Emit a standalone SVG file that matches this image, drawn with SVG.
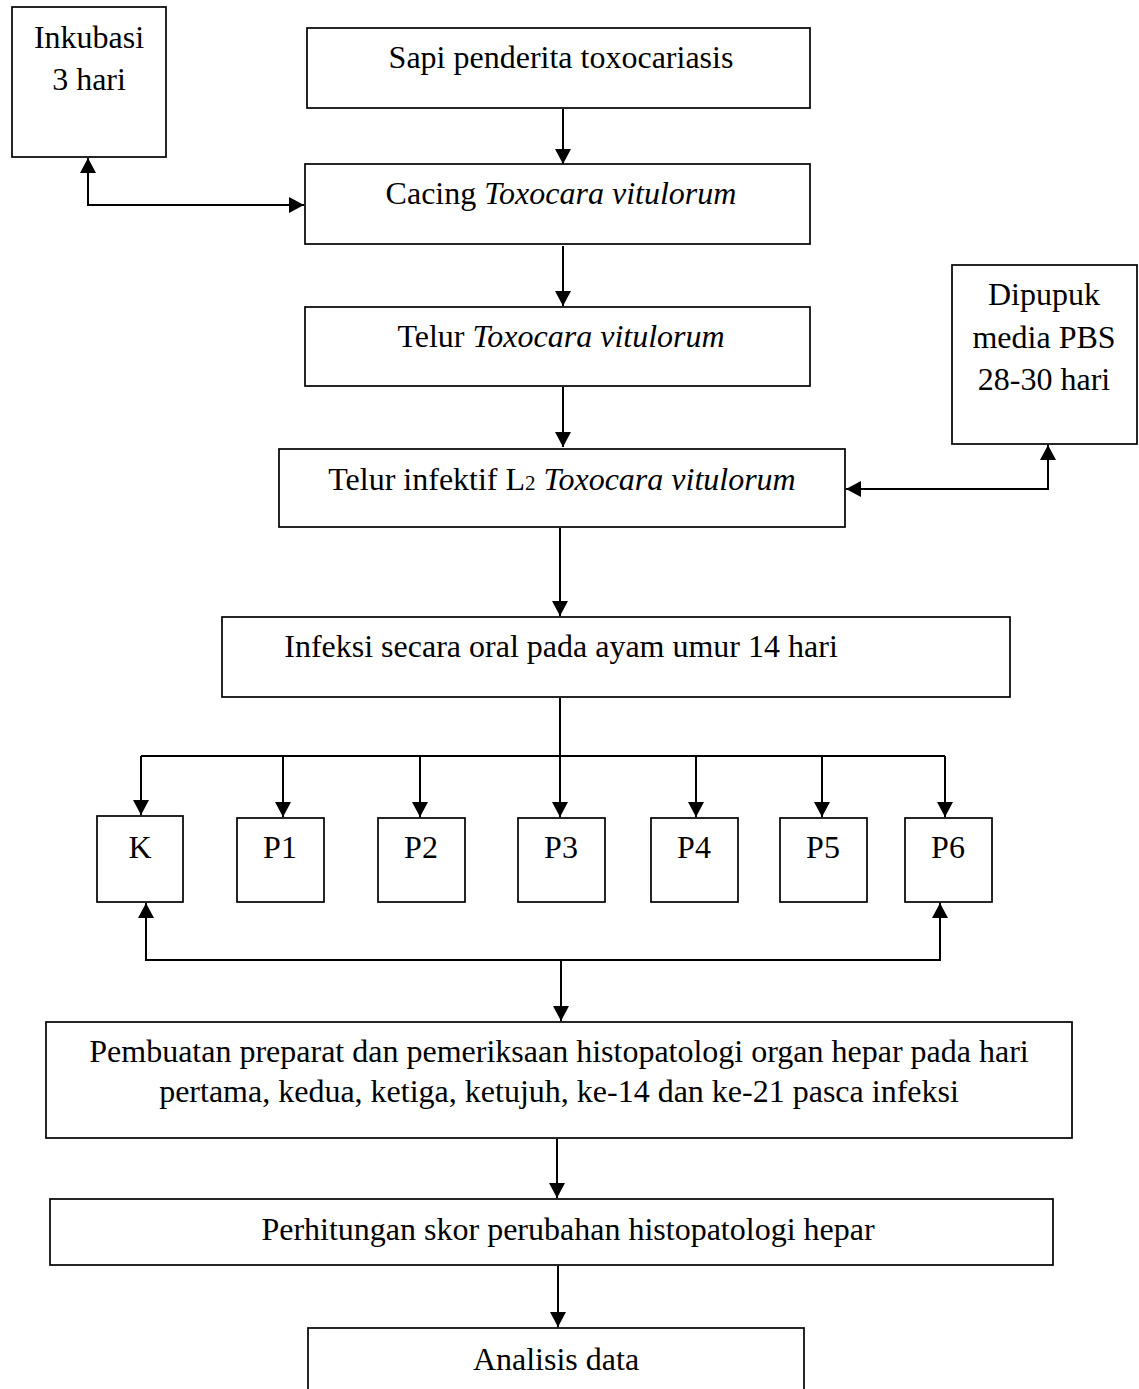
<svg xmlns="http://www.w3.org/2000/svg" width="1139" height="1389" viewBox="0 0 1139 1389">
<style>
.box{fill:#fff;stroke:#000;stroke-width:1.7}
.t{font-family:"Liberation Serif","Times New Roman",serif;font-size:32px;fill:#000;text-anchor:middle}
.i{font-style:italic}
.c{fill:none;stroke:#000;stroke-width:2}
</style>
<defs>
<marker id="ah" markerUnits="userSpaceOnUse" markerWidth="16" markerHeight="16" refX="15" refY="8" orient="auto-start-reverse" viewBox="0 0 16 16">
<path d="M0,0 L15,8 L0,16 z" fill="#000"/>
</marker>
</defs>
<rect width="1139" height="1389" fill="#fff"/>
<g id="connectors">
<path class="c" d="M88,158 V205 H304" marker-start="url(#ah)" marker-end="url(#ah)"/>
<path class="c" d="M563,109 V164" marker-end="url(#ah)"/>
<path class="c" d="M563,246 V306" marker-end="url(#ah)"/>
<path class="c" d="M563,387 V447" marker-end="url(#ah)"/>
<path class="c" d="M1048,445 V489 H846" marker-start="url(#ah)" marker-end="url(#ah)"/>
<path class="c" d="M560,528 V616" marker-end="url(#ah)"/>
<path class="c" d="M560,698 V817" marker-end="url(#ah)"/>
<path class="c" d="M141,756 H945"/>
<path class="c" d="M141,756 V815" marker-end="url(#ah)"/>
<path class="c" d="M283,756 V817" marker-end="url(#ah)"/>
<path class="c" d="M420,756 V817" marker-end="url(#ah)"/>
<path class="c" d="M696,756 V817" marker-end="url(#ah)"/>
<path class="c" d="M822,756 V817" marker-end="url(#ah)"/>
<path class="c" d="M945,756 V817" marker-end="url(#ah)"/>
<path class="c" d="M146,903 V960 H940 V903" marker-start="url(#ah)" marker-end="url(#ah)"/>
<path class="c" d="M561,960 V1021" marker-end="url(#ah)"/>
<path class="c" d="M557,1139 V1198" marker-end="url(#ah)"/>
<path class="c" d="M558,1266 V1327" marker-end="url(#ah)"/>
</g>
<g id="inkubasi"><rect class="box" x="12" y="7" width="154" height="150"/>
<text class="t" x="89" y="48">Inkubasi</text><text class="t" x="89" y="90">3 hari</text></g>
<g id="sapi"><rect class="box" x="307" y="28" width="503" height="80"/>
<text class="t" x="561" y="68">Sapi penderita toxocariasis</text></g>
<g id="cacing"><rect class="box" x="305" y="164" width="505" height="80"/>
<text class="t" x="561" y="204">Cacing <tspan class="i">Toxocara vitulorum</tspan></text></g>
<g id="telur"><rect class="box" x="305" y="307" width="505" height="79"/>
<text class="t" x="561" y="347">Telur <tspan class="i">Toxocara vitulorum</tspan></text></g>
<g id="dipupuk"><rect class="box" x="952" y="265" width="185" height="179"/>
<text class="t" x="1044" y="305">Dipupuk</text><text class="t" x="1044" y="348">media PBS</text><text class="t" x="1044" y="390">28-30 hari</text></g>
<g id="telur-infektif"><rect class="box" x="279" y="449" width="566" height="78"/>
<text class="t" x="562" y="490">Telur infektif L<tspan font-size="21">2</tspan> <tspan class="i">Toxocara vitulorum</tspan></text></g>
<g id="infeksi"><rect class="box" x="222" y="617" width="788" height="80"/>
<text class="t" x="561" y="657">Infeksi secara oral pada ayam umur 14 hari</text></g>
<g id="k"><rect class="box" x="97" y="816" width="86" height="86"/><text class="t" x="140" y="858">K</text></g>
<g id="p1"><rect class="box" x="237" y="818" width="87" height="84"/><text class="t" x="280" y="858">P1</text></g>
<g id="p2"><rect class="box" x="378" y="818" width="87" height="84"/><text class="t" x="421" y="858">P2</text></g>
<g id="p3"><rect class="box" x="518" y="818" width="87" height="84"/><text class="t" x="561" y="858">P3</text></g>
<g id="p4"><rect class="box" x="651" y="818" width="87" height="84"/><text class="t" x="694" y="858">P4</text></g>
<g id="p5"><rect class="box" x="780" y="818" width="87" height="84"/><text class="t" x="823" y="858">P5</text></g>
<g id="p6"><rect class="box" x="905" y="818" width="87" height="84"/><text class="t" x="948" y="858">P6</text></g>
<g id="pembuatan"><rect class="box" x="46" y="1022" width="1026" height="116"/>
<text class="t" x="559" y="1062">Pembuatan preparat dan pemeriksaan histopatologi organ hepar pada hari</text>
<text class="t" x="559" y="1102">pertama, kedua, ketiga, ketujuh, ke-14 dan ke-21 pasca infeksi</text></g>
<g id="perhitungan"><rect class="box" x="50" y="1199" width="1003" height="66"/>
<text class="t" x="568" y="1240">Perhitungan skor perubahan histopatologi hepar</text></g>
<g id="analisis"><rect class="box" x="308" y="1328" width="496" height="80"/>
<text class="t" x="556" y="1370">Analisis data</text></g>
</svg>
